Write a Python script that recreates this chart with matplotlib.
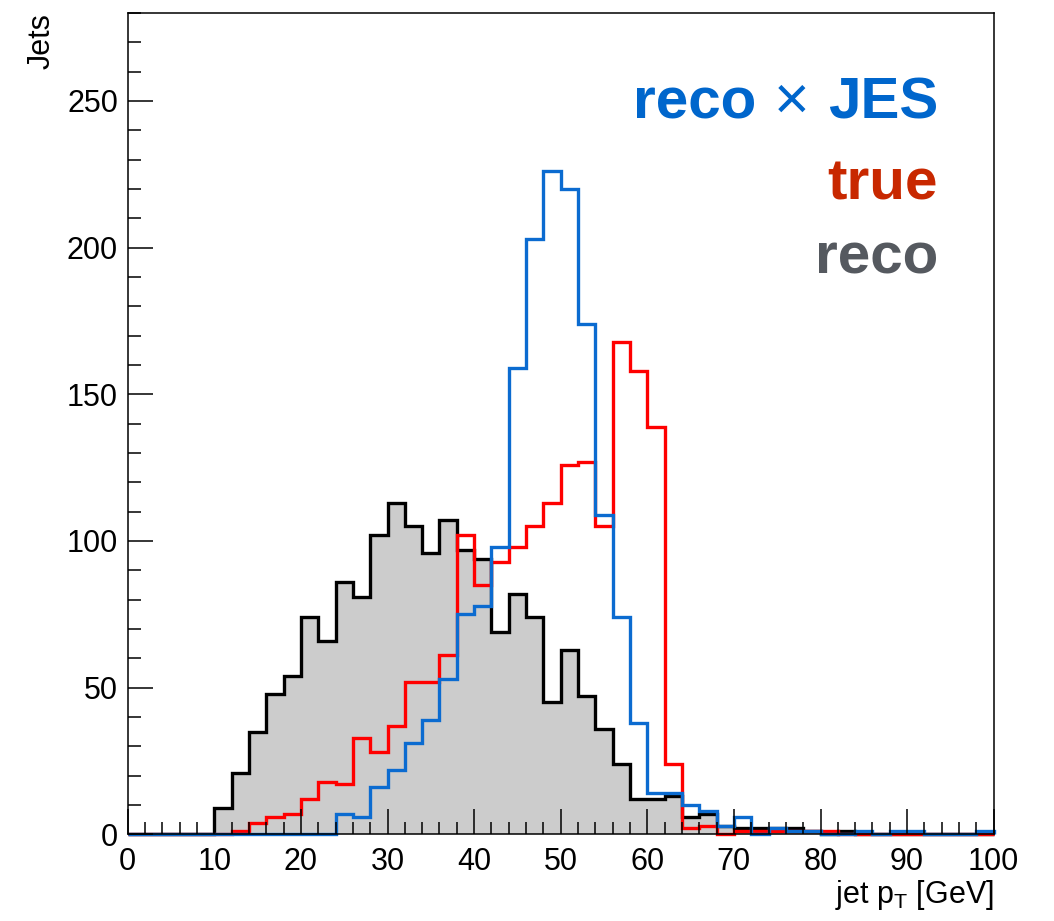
import numpy as np
import matplotlib
matplotlib.use('Agg')
from matplotlib import pyplot as plt
from matplotlib.ticker import MultipleLocator
from matplotlib.transforms import offset_copy

plt.rcParams['font.family'] = ['Liberation Sans', 'DejaVu Sans']
plt.rcParams['mathtext.fontset'] = 'custom'
plt.rcParams['mathtext.rm'] = 'Liberation Sans'
plt.rcParams['mathtext.it'] = 'Liberation Sans'

# jet pT histograms, 50 bins of 2 GeV from 0 to 100
edges = np.arange(0, 101, 2)

reco = [0, 0, 0, 0, 0, 9, 21, 35, 48, 54,
        74, 66, 86, 81, 102, 113, 105, 96, 107, 97,
        94, 69, 82, 74, 45, 63, 47, 36, 24, 12,
        12, 13, 6, 7, 3, 2, 2, 2, 2, 1,
        0, 1, 0, 0, 0, 0, 0, 0, 0, 0]

true = [0, 0, 0, 0, 0, 0, 1, 4, 6, 7,
        12, 18, 17, 33, 28, 37, 52, 52, 61, 102,
        85, 93, 98, 105, 113, 126, 127, 105, 168, 158,
        139, 24, 2, 3, 0, 1, 1, 1, 1, 1,
        1, 0, 0, 0, 0, 0, 0, 0, 0, 0]

reco_jes = [0, 0, 0, 0, 0, 0, 0, 0, 0, 0,
            0, 0, 7, 6, 16, 22, 31, 39, 53, 75,
            78, 98, 159, 203, 226, 220, 174, 109, 74, 38,
            14, 14, 10, 8, 3, 6, 0, 2, 1, 1,
            0, 0, 1, 0, 1, 1, 0, 0, 0, 1]

c_blue = '#0b6bd0'
c_red = '#ff0000'
fig = plt.figure(figsize=(10.54, 9.21), dpi=100)
ax = fig.add_axes([0.1212, 0.0941, 0.8216, 0.8918])

ax.stairs(reco, edges, baseline=0, fill=True, color='#cccccc', lw=0)
ax.stairs(reco, edges, baseline=0, color='black', lw=2.4, clip_on=False)
ax.stairs(true, edges, baseline=0, color=c_red, lw=2.4, clip_on=False)
ax.stairs(reco_jes, edges, baseline=0, color=c_blue, lw=2.4, clip_on=False)

ax.set_xlim(0, 100)
ax.set_ylim(0, 280)
ax.xaxis.set_major_locator(MultipleLocator(10))
ax.xaxis.set_minor_locator(MultipleLocator(2))
ax.yaxis.set_major_locator(MultipleLocator(50))
ax.yaxis.set_minor_locator(MultipleLocator(10))
ax.tick_params(which='both', direction='in', top=False, right=False, width=1.1)
ax.tick_params(which='major', length=18, labelsize=22)
ax.tick_params(axis='x', which='major', pad=9)
ax.tick_params(axis='y', which='major', pad=7)
ax.tick_params(which='minor', length=9)
for s in ax.spines.values():
    s.set_linewidth(1.1)

ax.set_xlabel(r'jet p$_{\mathregular{T}}$ [GeV]', fontsize=22, loc='right', labelpad=1)
ax.set_ylabel('Jets', fontsize=22, loc='top', labelpad=7)

# legend-like labels, right aligned
xr = 0.9357
fig.canvas.draw()
t_jes = ax.text(xr, 0.871, 'JES', transform=ax.transAxes, ha='right', va='baseline',
                fontsize=42, weight='bold', color='#0066cc')
fig.canvas.draw()
w1 = t_jes.get_window_extent().width
t_x = ax.text(xr, 0.871, '\u00d7', ha='right', va='baseline', fontsize=44, color='#0066cc',
              transform=offset_copy(ax.transAxes, fig=fig, x=-(w1 + 18), y=0, units='dots'))
fig.canvas.draw()
w2 = t_x.get_window_extent().width
ax.text(xr, 0.871, 'reco', ha='right', va='baseline', fontsize=42, weight='bold', color='#0066cc',
        transform=offset_copy(ax.transAxes, fig=fig, x=-(w1 + w2 + 36), y=0, units='dots'))
ax.text(xr, 0.7735, 'true', transform=ax.transAxes, ha='right', va='baseline',
        fontsize=42, weight='bold', color='#c82800')
ax.text(xr, 0.683, 'reco', transform=ax.transAxes, ha='right', va='baseline',
        fontsize=42, weight='bold', color='#55595f')

plt.savefig('out.png', dpi=100)
